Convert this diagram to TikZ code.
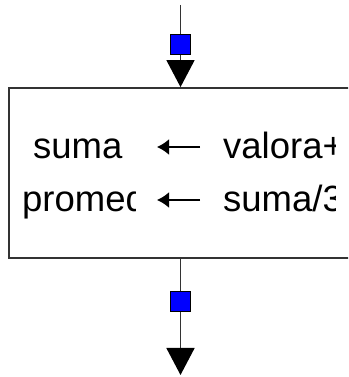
\documentclass[tikz,border=0pt]{standalone}
\usepackage{fontspec}
\setmainfont{Liberation Sans}
\usetikzlibrary{arrows.meta}
\tikzset{
  conn/.style={draw=black!80, line width=1.6pt},
  bigtip/.style={-{Triangle[length=27pt,width=28pt,color=black]}},
  portsq/.style={draw=black, line width=1pt, fill=blue, minimum size=20pt, inner sep=0pt},
  mainbox/.style={draw=black!80, line width=1.8pt, minimum width=391pt, minimum height=170pt, inner sep=0pt},
  stmt/.style={font=\fontsize{36.5}{42}\selectfont, inner sep=0pt, anchor=base west},
  assign/.style={draw=black, line width=1.8pt, -{Latex[length=12pt,width=16pt]}},
}
\begin{document}
\begin{tikzpicture}[x=1pt,y=1pt]
\useasboundingbox (0,0) rectangle (348,377);
\clip (0,0) rectangle (348,377);
\node[mainbox] (box) at (204.5,204) {};
\coordinate (start) at (180.5,372);
\coordinate (end) at (180.5,2);
\node[portsq] (sq1) at (180.5,332) {};
\node[portsq] (sq2) at (180.5,75) {};
\draw[conn] (start) -- (sq1);
\draw[conn,bigtip] (sq1) -- (box.north -| sq1);
\draw[conn] (box.south -| sq2) -- (sq2);
\draw[conn,bigtip] (sq2) -- (end);
% statements
\node[stmt] (t1) at (33,218) {suma};
\begin{scope}
\clip (0,0) rectangle (135,377);
\node[stmt] (t2) at (22,165) {promed};
\end{scope}
\begin{scope}
\clip (0,0) rectangle (335,377);
\node[stmt] (t3) at (223,218) {valora+};
\node[stmt] (t4) at (223,165) {suma/3};
\end{scope}
\coordinate (a1s) at (200,230);
\coordinate (a1e) at (157,230);
\coordinate (a2s) at (200,177);
\coordinate (a2e) at (157,177);
\draw[assign] (a1s) -- (a1e);
\draw[assign] (a2s) -- (a2e);
\end{tikzpicture}
\end{document}
